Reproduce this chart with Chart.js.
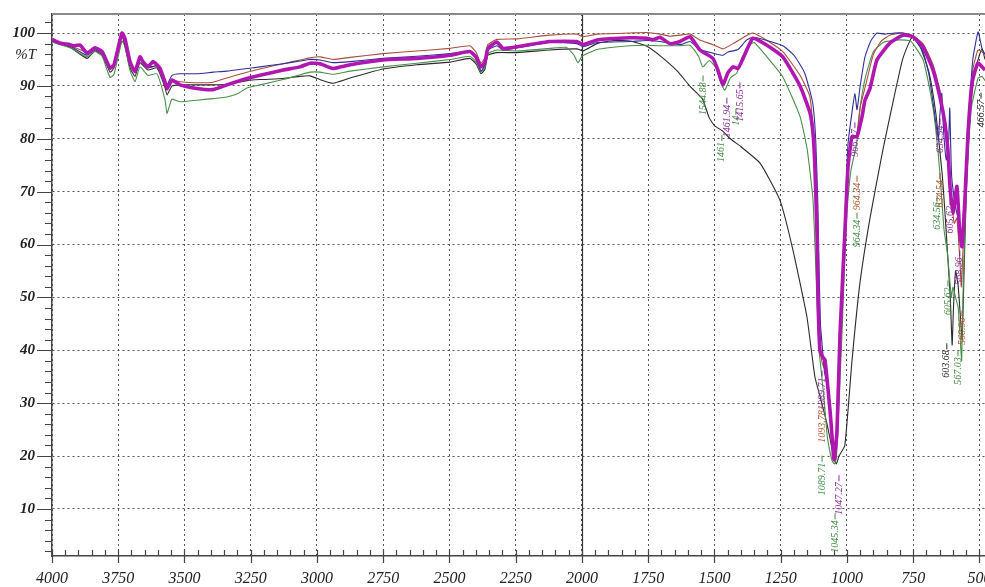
<!DOCTYPE html>
<html><head><meta charset="utf-8">
<script src="https://cdn.jsdelivr.net/npm/chart.js@4/dist/chart.umd.min.js"></script>
<style>html,body{margin:0;padding:0;background:#fff}canvas{display:block}</style>
</head><body>
<canvas id="c" width="985" height="587"></canvas>
<script>
// ---------- DATA ----------
const xTickLabels = [4000,3750,3500,3250,3000,2750,2500,2250,2000,1750,1500,1250,1000,750,500];
const yTickLabels = [10,20,30,40,50,60,70,80,90,100];

// [wavenumber cm-1, %T]
const magenta = [[4000,98.8],[3970,98.1],[3932,97.8],[3921,97.6],[3894,97.7],[3868,96.2],[3838,97.2],[3811,96.5],[3781,93.4],[3766,94],[3736,100],[3725,99],[3706,94.6],[3687,92.7],[3668,95.5],[3657,94.6],[3638,93.6],[3619,94.6],[3604,94],[3592,93.3],[3574,90.8],[3566,89.5],[3547,91.1],[3517,90.2],[3453,89.5],[3392,89.3],[3340,90.2],[3264,91.4],[3215,92],[3128,93],[3064,93.6],[3026,94.3],[2989,94.2],[2940,93.3],[2875,94],[2751,94.9],[2623,95.2],[2498,95.8],[2423,96.5],[2400,95.5],[2381,93.6],[2366,94.5],[2355,97.1],[2321,98.3],[2298,97.1],[2245,97.4],[2121,98.4],[2019,98.4],[1996,97.8],[1943,98.7],[1819,99.1],[1755,99],[1732,98.7],[1706,99.2],[1668,98],[1630,98.4],[1592,99.3],[1555,96.8],[1506,95.2],[1487,93],[1468,90.2],[1449,92.5],[1430,93.6],[1411,93.3],[1392,95.2],[1355,99],[1302,97.7],[1242,95.5],[1177,90],[1140,85],[1128,81],[1121,74.7],[1113,62],[1109,49.5],[1102,40],[1091,38.7],[1083,38.2],[1076,35],[1064,28.7],[1057,24.3],[1049,19.3],[1038,24.3],[1026,43.2],[1008,62.1],[996,74.7],[981,80.4],[962,80.4],[943,84.2],[932,87.3],[913,89.5],[887,94.9],[838,98.1],[789,99.6],[751,99.3],[713,97.4],[675,93],[649,87.9],[630,82.9],[619,77.9],[611,70.9],[600,65.9],[585,71],[574,62],[566,59.6],[555,68.4],[543,81],[528,90.5],[506,94.3],[479,93]];

const blue = [[4000,98.5],[3932,97.5],[3868,95.8],[3838,96.8],[3811,96.2],[3781,93.2],[3766,94],[3736,99.5],[3706,94.3],[3687,92.5],[3668,95],[3638,93.5],[3604,93.8],[3574,91],[3566,90.2],[3547,92],[3517,92.3],[3453,92.3],[3392,92.6],[3340,92.8],[3264,93.3],[3215,93.6],[3128,94.2],[3064,94.7],[3026,95],[2989,94.9],[2940,94.4],[2875,94.6],[2751,95.2],[2623,95.6],[2498,96.1],[2423,96.6],[2400,95.2],[2381,92.8],[2366,94],[2355,96.8],[2321,97.6],[2298,96.8],[2245,97.2],[2121,98.2],[2019,98],[1996,97.4],[1943,98.2],[1819,98.4],[1755,98.6],[1706,98.4],[1630,97.8],[1592,98.4],[1555,96.9],[1506,96.2],[1468,95.8],[1449,96.4],[1411,96.9],[1380,98.6],[1355,99.2],[1302,98.6],[1242,97.6],[1200,95.8],[1160,92.5],[1130,87],[1118,80],[1110,68],[1105,55],[1100,45],[1092,40],[1085,36],[1070,32],[1060,26],[1050,20.5],[1042,21],[1030,34],[1015,55],[1005,68],[996,79],[981,85],[970,88.5],[962,85.5],[950,90],[932,95.5],[910,98.5],[887,100],[860,99.8],[820,100],[789,100],[751,99.2],[713,96.5],[690,92],[670,85],[655,80],[650,84],[642,88.6],[636,82],[625,76],[616,80],[612,85.8],[605,73],[590,67],[575,63.7],[568,60],[560,64],[545,80],[525,95],[505,100.2],[490,97],[479,96]];

const brown = [[4000,98.6],[3932,97.6],[3868,96.4],[3838,97],[3811,96.4],[3781,93.2],[3766,93.8],[3736,99.6],[3706,94.4],[3687,92.5],[3668,95.2],[3638,93.4],[3604,93.8],[3574,90.6],[3566,89.2],[3547,91],[3517,90.8],[3453,90.6],[3392,90.7],[3340,91.5],[3264,92.6],[3215,93.2],[3128,94.2],[3064,94.9],[3026,95.3],[2989,95.5],[2940,95],[2875,95.4],[2751,96.1],[2623,96.6],[2498,97.1],[2423,97.6],[2400,96.4],[2381,94.3],[2366,95.3],[2355,97.8],[2321,98.8],[2245,98.9],[2121,99.6],[2019,99.8],[1996,99.3],[1943,99.8],[1819,100],[1755,100.1],[1706,99.8],[1668,99.4],[1630,99.6],[1592,99.8],[1555,98.7],[1506,97.8],[1468,97],[1430,98],[1380,99.5],[1355,100],[1302,98.6],[1242,96.5],[1177,92],[1140,88],[1125,80],[1115,62],[1108,48],[1100,40],[1093,37.5],[1080,36],[1064,29],[1055,24],[1047,19],[1040,20],[1028,40],[1010,60],[996,74],[981,80],[964,80.5],[950,86],[930,90],[900,96],[870,98.5],[838,99.6],[789,100],[751,99.5],[713,98],[675,94],[649,89],[634,83],[625,80],[612,72],[605,68],[595,64],[585,65],[575,58],[568,52],[560,62],[545,82],[525,93],[505,96.8],[479,96]];

const green = [[4000,98.3],[3932,97.2],[3868,95.5],[3838,96.5],[3811,95.6],[3781,91.6],[3766,92.2],[3736,98.5],[3725,97.5],[3706,93],[3687,90.8],[3668,93.6],[3638,92],[3604,92.3],[3574,87.5],[3566,84.8],[3555,86.5],[3547,87.5],[3517,87],[3453,87.3],[3392,87.6],[3340,87.9],[3300,88.5],[3264,89.6],[3215,90.2],[3128,91.2],[3064,92.1],[3026,92.6],[2989,92.6],[2940,92.2],[2875,92.8],[2751,93.6],[2623,94.3],[2498,95],[2423,95.6],[2400,94.6],[2381,92.6],[2366,93.5],[2355,96.1],[2321,96.8],[2245,96.6],[2121,97.1],[2060,97.3],[2030,95.8],[2015,94.4],[2000,95.6],[1943,96.9],[1819,97.6],[1755,97.7],[1706,97.6],[1630,97.6],[1592,97.7],[1560,95.6],[1544,93.6],[1520,94.8],[1495,93.5],[1475,90.5],[1461,89.2],[1440,91.5],[1415,92.5],[1395,95.5],[1370,97.6],[1350,98.2],[1302,95.5],[1242,91.7],[1177,84.2],[1150,78],[1128,68.4],[1113,49.5],[1105,40],[1095,35],[1085,30],[1075,24],[1065,21],[1055,19],[1047,18.5],[1040,19.5],[1030,30],[1018,44],[1010,55],[1000,66],[985,74],[964,79],[950,86],[930,91.7],[900,96.5],[860,98.3],[800,98.7],[760,98.5],[740,97.2],[713,95],[690,90],[670,84],[650,74],[634,63],[620,58],[606,50],[600,52],[590,50],[580,48],[570,40],[567,38],[560,55],[545,76],[530,86],[505,91.5],[490,91.8],[479,91]];

const black = [[4000,98.4],[3932,97.3],[3868,95.2],[3838,96.6],[3811,95.9],[3781,92.6],[3766,93.4],[3736,99.4],[3706,93.5],[3687,91.8],[3668,94.4],[3638,93],[3604,93.4],[3574,89.8],[3566,88.3],[3547,90],[3517,90.2],[3453,90.2],[3392,90.2],[3340,90.3],[3264,91],[3215,91.2],[3128,91.4],[3064,91.8],[3026,91.9],[2989,91.2],[2940,90.5],[2875,91.5],[2751,93.2],[2623,94],[2498,94.5],[2423,95.2],[2400,94.2],[2381,92.3],[2366,93.2],[2355,95.8],[2321,96.3],[2245,96.3],[2121,96.8],[2019,97],[1996,96.6],[1943,98],[1880,98.6],[1819,98.5],[1755,97.5],[1700,95.5],[1640,92.8],[1590,89.8],[1545,87.5],[1520,84],[1500,82.5],[1470,81.5],[1440,80],[1400,78.5],[1328,75.4],[1253,68.4],[1204,59],[1151,46.3],[1121,35],[1100,31],[1075,26],[1050,20],[1040,18.5],[1030,20],[1008,22],[981,38],[951,52.7],[913,65],[864,78],[826,87],[790,95],[760,98.8],[751,99.3],[720,97],[690,92.5],[665,85],[650,78],[640,73],[630,66],[620,58],[610,50],[603,41],[598,48],[590,55],[580,52],[570,45],[565,42],[558,55],[548,72],[535,85],[520,92],[505,95],[490,97],[479,95]];

// peak annotations: text, wavenumber, %T at label start, series index (0 magenta,1 blue,2 brown,3 green,4 black)
const annText = ['1544.88','1461','1461.94','14','1415.65','966.27','964.34','964.34','1089.71','1093.78','1089.71','1045.34','1047.27','634.54','634.54','634.56','605.62','605.62','603.68','568.96','568.96','567.03','466.57'];
const annWn   = [1543,1472,1453,1419,1404,970,962,962,1094,1094,1094,1045,1030,649,649,660,611,619,623,574,566,581,494];
const annT    = [84.5,75.6,80.3,82.5,83.2,76.6,66.5,59.5,28.7,22.5,12.6,1.7,8.9,77.3,67,62.8,62.1,46.7,34.8,52.4,41,33.5,82.2];
const annSeries = [3,3,0,3,0,0,2,3,0,2,3,3,0,0,2,3,0,3,4,0,2,3,4];

// ---------- STYLE ----------
const seriesColors = ['#b016b0','#2e2e96','#a84e3a','#4a8f4a','#2a2a2a'];
const annColors = ['#8a2a9a','#2e2e96','#b0502a','#3f8a3f','#222'];
const serif = '"Liberation Serif","DejaVu Serif",serif';

const toPts = a => a.map(p => ({x:p[0], y:p[1]}));

const decor = {
  id:'decor',
  beforeDatasetsDraw(chart){
    const {ctx, chartArea:a, scales:{x}} = chart;
    ctx.save();
    const p = Math.round(x.getPixelForValue(2000)) + 0.5;
    ctx.strokeStyle = '#333'; ctx.lineWidth = 1.2;
    ctx.beginPath(); ctx.moveTo(p, a.top); ctx.lineTo(p, a.bottom); ctx.stroke();
    ctx.restore();
  },
  afterDatasetsDraw(chart){
    const {ctx, chartArea:a, scales:{x, y}} = chart;
    ctx.save();
    // top frame
    ctx.strokeStyle = '#8a8a8a'; ctx.lineWidth = 2;
    ctx.beginPath(); ctx.moveTo(a.left, a.top); ctx.lineTo(a.right, a.top); ctx.stroke();
    // tick marks
    ctx.strokeStyle = '#444'; ctx.lineWidth = 1.2;
    ctx.beginPath();
    for (let v = 500; v <= 4000; v += 50) {
      const px = Math.round(x.getPixelForValue(v)) + 0.5;
      if (v % 250 === 0) { ctx.moveTo(px, a.bottom - 6); ctx.lineTo(px, a.bottom + 7); }
      else { ctx.moveTo(px, a.bottom); ctx.lineTo(px, a.bottom - 6); }
    }
    for (let v = 2; v <= 102; v += 2) {
      const py = Math.round(y.getPixelForValue(v)) + 0.5;
      if (v % 10 === 0) { ctx.moveTo(a.left - 15, py); ctx.lineTo(a.left, py); }
      else { ctx.moveTo(a.left - 7, py); ctx.lineTo(a.left, py); }
    }
    ctx.stroke();
    // %T label
    ctx.fillStyle = '#222';
    ctx.font = 'italic 15px ' + serif;
    ctx.textAlign = 'right'; ctx.textBaseline = 'middle';
    ctx.fillText('%T', a.left - 16, y.getPixelForValue(95.9));
    // peak annotations
    ctx.font = 'italic 10px ' + serif;
    ctx.textAlign = 'left'; ctx.textBaseline = 'middle';
    annText.forEach((t, i) => {
      const px = x.getPixelForValue(annWn[i]);
      const py = y.getPixelForValue(annT[i]);
      const col = annColors[annSeries[i]];
      ctx.save();
      ctx.translate(px, py);
      ctx.rotate(-Math.PI / 2);
      ctx.fillStyle = col;
      ctx.fillText(t, 0, 0);
      const w = ctx.measureText(t).width;
      ctx.strokeStyle = col; ctx.lineWidth = 1;
      ctx.beginPath(); ctx.moveTo(w + 1, 0); ctx.lineTo(w + 7, 0); ctx.stroke();
      ctx.restore();
    });
    ctx.restore();
  }
};

const mk = (data, idx, w) => ({
  data: toPts(data), borderColor: seriesColors[idx], borderWidth: w,
  pointRadius: 0, tension: 0.15, fill: false
});

new Chart(document.getElementById('c'), {
  type: 'line',
  data: { datasets: [ mk(magenta,0,3.6), mk(blue,1,1.1), mk(brown,2,1.1), mk(green,3,1.1), mk(black,4,1.1) ] },
  options: {
    responsive: false, animation: false,
    layout: { padding: { top: 14, right: 0, left: 0, bottom: 0 } },
    plugins: { legend: { display: false }, tooltip: { enabled: false } },
    scales: {
      x: {
        type: 'linear', reverse: true, min: 479, max: 4000,
        afterBuildTicks: s => { s.ticks = xTickLabels.map(v => ({value: v})); },
        afterFit: s => { s.height = 31; s.paddingLeft = 0; s.paddingRight = 0; s.paddingTop = 0; s.paddingBottom = 0; },
        ticks: { autoSkip: false, maxRotation: 0, padding: 13, color: '#222',
                 font: { family: serif, style: 'italic', size: 16 },
                 callback: v => String(v) },
        grid: { drawTicks: false, color: '#555', lineWidth: 1 },
        border: { display: true, color: '#444', width: 1.5, dash: [2, 3] }
      },
      y: {
        type: 'linear', min: 1.1, max: 103.6,
        afterBuildTicks: s => { s.ticks = yTickLabels.map(v => ({value: v})); },
        afterFit: s => { s.width = 52; s.paddingTop = 0; s.paddingBottom = 0; s.paddingLeft = 0; s.paddingRight = 0; },
        ticks: { padding: 17, color: '#222',
                 font: { family: serif, style: 'italic', weight: 'bold', size: 15 },
                 callback: v => String(v) },
        grid: { drawTicks: false, color: '#555', lineWidth: 1 },
        border: { display: true, color: '#444', width: 1.5, dash: [2, 3] }
      }
    }
  },
  plugins: [decor]
});
</script>
</body></html>
